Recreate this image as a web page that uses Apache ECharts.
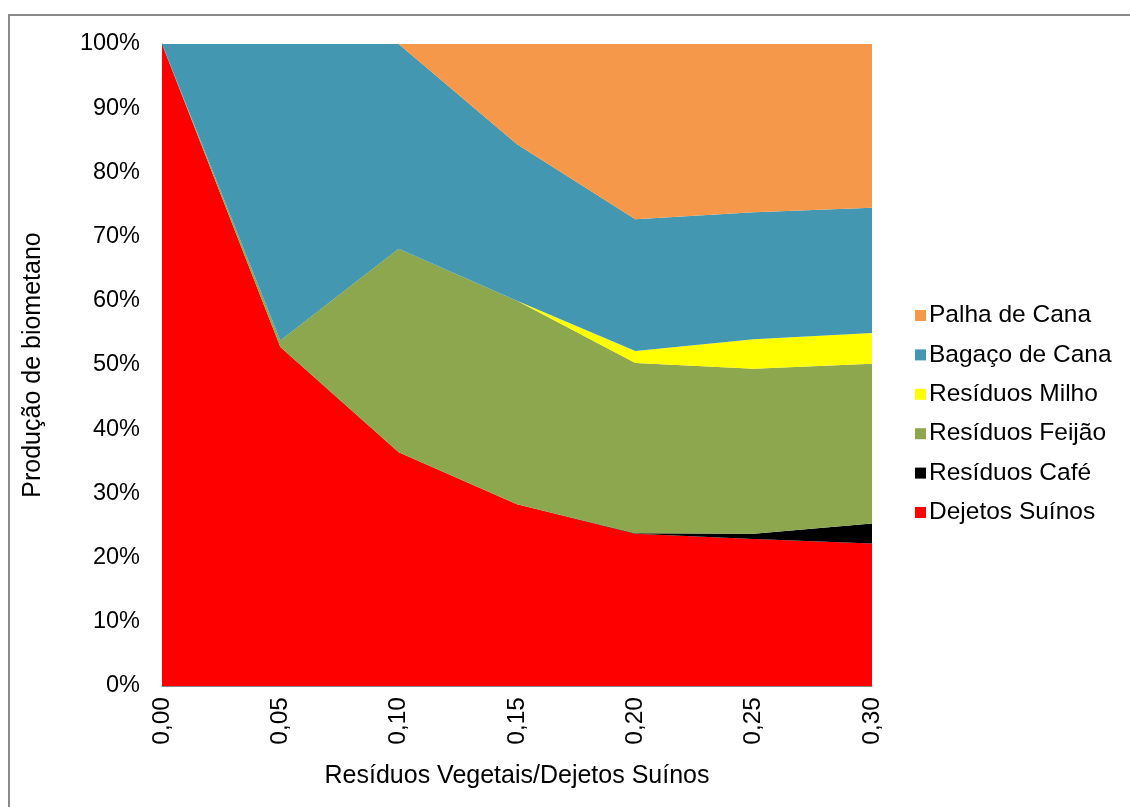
<!DOCTYPE html>
<html>
<head>
<meta charset="utf-8">
<script src="https://cdn.jsdelivr.net/npm/echarts@6/dist/echarts.min.js"></script>
<style>
html,body{margin:0;padding:0;background:#fff;}
#chart{width:1130px;height:807px;}
</style>
</head>
<body>
<div id="chart"></div>
<script>
const categories = ['0,00','0,05','0,10','0,15','0,20','0,25','0,30'];
const dejetosSuinos   = [100, 52.8, 36.4, 28.3, 23.7, 22.9, 22.2];
const residuosCafe    = [0, 0, 0, 0, 0.1, 0.8, 3.1];
const residuosFeijao  = [0, 1.0, 31.7, 31.7, 26.5, 25.7, 24.9];
const residuosMilho   = [0, 0, 0, 0, 1.9, 4.6, 4.8];
const bagacoCana      = [0, 46.2, 31.9, 24.4, 20.5, 19.8, 19.5];
const palhaCana       = [0, 0, 0, 15.6, 27.3, 26.2, 25.5];
const yTicks = [0,10,20,30,40,50,60,70,80,90,100];

const font = 'Liberation Sans, Arial, sans-serif';
function area(name, data, color){
  return {
    name: name, type: 'line', stack: 'total', data: data,
    symbol: 'none', showSymbol: false,
    lineStyle: {width: 0},
    itemStyle: {color: color},
    areaStyle: {color: color, opacity: 1}
  };
}
const chart = echarts.init(document.getElementById('chart'));
chart.setOption({
  animation: false,
  backgroundColor: '#fff',
  graphic: [{
    type: 'rect', shape: {x: 9, y: 15, width: 1140, height: 810},
    style: {fill: 'none', stroke: '#8a8a8a', lineWidth: 2}, silent: true
  }],
  grid: {left: 162, top: 44, width: 710, height: 642},
  xAxis: {
    type: 'category', data: categories, boundaryGap: false,
    axisLine: {lineStyle: {color: '#868686'}},
    axisTick: {show: false},
    axisLabel: {rotate: 90, color: '#000', fontFamily: font, fontSize: 24.5, margin: 11},
    name: 'Resíduos Vegetais/Dejetos Suínos', nameLocation: 'middle', nameGap: 78,
    nameTextStyle: {color: '#000', fontFamily: font, fontSize: 25}
  },
  yAxis: {
    type: 'value', min: 0, max: 100, interval: 10,
    axisLine: {show: true, lineStyle: {color: '#868686'}},
    axisTick: {show: false},
    splitLine: {show: false},
    axisLabel: {formatter: '{value}%', color: '#000', fontFamily: font, fontSize: 23.5, margin: 22},
    name: 'Produção de biometano', nameLocation: 'middle', nameGap: 116,
    nameTextStyle: {color: '#000', fontFamily: font, fontSize: 25}
  },
  legend: {
    orient: 'vertical', left: 910, top: 298,
    itemWidth: 11, itemHeight: 11, itemGap: 14.4, icon: 'rect',
    textStyle: {color: '#000', fontFamily: font, fontSize: 24.5, padding: [0,0,0,-2]},
    data: ['Palha de Cana','Bagaço de Cana','Resíduos Milho','Resíduos Feijão','Resíduos Café','Dejetos Suínos']
  },
  series: [
    area('Dejetos Suínos', dejetosSuinos, '#ff0000'),
    area('Resíduos Café', residuosCafe, '#000000'),
    area('Resíduos Feijão', residuosFeijao, '#8ca74e'),
    area('Resíduos Milho', residuosMilho, '#ffff00'),
    area('Bagaço de Cana', bagacoCana, '#4397b0'),
    area('Palha de Cana', palhaCana, '#f6984a')
  ]
});
</script>
</body>
</html>
